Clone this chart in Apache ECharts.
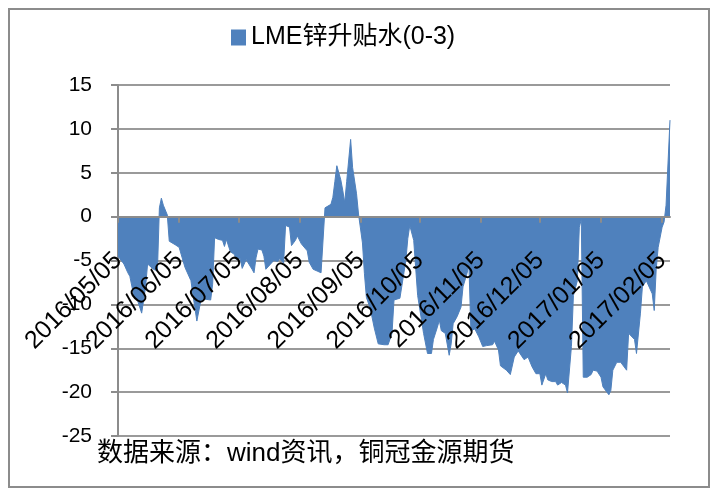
<!DOCTYPE html>
<html>
<head>
<meta charset="utf-8">
<script src="https://cdn.jsdelivr.net/npm/echarts@6/dist/echarts.min.js"></script>
<style>
  html, body { margin: 0; padding: 0; background: #fff; }
  #chart { width: 716px; height: 492px; }
</style>
</head>
<body>
<div id="chart"></div>
<script>
// LME锌升贴水(0-3)，按日期读图估值
const seriesName = 'LME锌升贴水(0-3)'
const dates = [
  '2016-05-05', '2016-05-08', '2016-05-10', '2016-05-11', '2016-05-13', '2016-05-15', '2016-05-17', '2016-05-18',
  '2016-05-19', '2016-05-20', '2016-05-23', '2016-05-25', '2016-05-26', '2016-05-27', '2016-05-28', '2016-05-30',
  '2016-05-31', '2016-06-03', '2016-06-05', '2016-06-08', '2016-06-11', '2016-06-12', '2016-06-14', '2016-06-16',
  '2016-06-18', '2016-06-21', '2016-06-22', '2016-06-23', '2016-06-25', '2016-06-27', '2016-06-28', '2016-06-29',
  '2016-07-01', '2016-07-03', '2016-07-04', '2016-07-06', '2016-07-07', '2016-07-08', '2016-07-09', '2016-07-12',
  '2016-07-13', '2016-07-14', '2016-07-15', '2016-07-17', '2016-07-18', '2016-07-19', '2016-07-20', '2016-07-21',
  '2016-07-23', '2016-07-25', '2016-07-26', '2016-07-28', '2016-07-29', '2016-07-31', '2016-08-01', '2016-08-03',
  '2016-08-04', '2016-08-06', '2016-08-07', '2016-08-09', '2016-08-10', '2016-08-12', '2016-08-14', '2016-08-16',
  '2016-08-17', '2016-08-18', '2016-08-21', '2016-08-22', '2016-08-23', '2016-08-24', '2016-08-25', '2016-08-26',
  '2016-08-27', '2016-08-28', '2016-08-29', '2016-08-31', '2016-09-01', '2016-09-03', '2016-09-04', '2016-09-06',
  '2016-09-07', '2016-09-08', '2016-09-10', '2016-09-12', '2016-09-14', '2016-09-17', '2016-09-19', '2016-09-21',
  '2016-09-22', '2016-09-25', '2016-09-28', '2016-09-29', '2016-09-30', '2016-10-02', '2016-10-03', '2016-10-04',
  '2016-10-07', '2016-10-09', '2016-10-11', '2016-10-12', '2016-10-14', '2016-10-15', '2016-10-16', '2016-10-18',
  '2016-10-20', '2016-10-21', '2016-10-22', '2016-10-24', '2016-10-26', '2016-10-27', '2016-10-29', '2016-10-30',
  '2016-10-31', '2016-11-02', '2016-11-04', '2016-11-06', '2016-11-08', '2016-11-09', '2016-11-11', '2016-11-12',
  '2016-11-14', '2016-11-15', '2016-11-16', '2016-11-18', '2016-11-20', '2016-11-22', '2016-11-24', '2016-11-25',
  '2016-11-27', '2016-11-29', '2016-12-01', '2016-12-03', '2016-12-05', '2016-12-06', '2016-12-08', '2016-12-09',
  '2016-12-11', '2016-12-13', '2016-12-14', '2016-12-16', '2016-12-18', '2016-12-19', '2016-12-20', '2016-12-21',
  '2016-12-22', '2016-12-24', '2016-12-25', '2016-12-26', '2016-12-27', '2016-12-29', '2016-12-31', '2017-01-01',
  '2017-01-03', '2017-01-05', '2017-01-06', '2017-01-08', '2017-01-09', '2017-01-10', '2017-01-11', '2017-01-13',
  '2017-01-15', '2017-01-16', '2017-01-18', '2017-01-19', '2017-01-20', '2017-01-22', '2017-01-23', '2017-01-25',
  '2017-01-26', '2017-01-28', '2017-01-29', '2017-01-31', '2017-02-01', '2017-02-02', '2017-02-03', '2017-02-05',
  '2017-02-06', '2017-02-07', '2017-02-08', '2017-02-09'
]
const values = [
  -4.5, -5.4, -6.4, -6.8, -9, -9.6, -11, -11,
  -8, -5.4, -6, -6.2, 1, 2.1, 1.3, 0.2,
  -2.8, -3.2, -3.5, -5.8, -7.3, -8.9, -11.9, -9.6,
  -9.4, -9.5, -7.7, -2.4, -2.6, -2.7, -3.4, -2.6,
  -4, -4.3, -4.9, -4.8, -5.9, -5.9, -4.9, -6,
  -6.4, -4.7, -3.7, -3.8, -4.5, -6, -6.2, -5.5,
  -5, -5.1, -4.8, -5.3, -1, -1.2, -3.3, -2.7,
  -2.2, -3.1, -3.2, -3.9, -5.2, -6, -6.2, -6.4,
  -6.6, 1, 1.4, 2.2, 4, 5.8, 5, 4.2,
  3, 1.6, 4, 8.8, 5.6, 2.6, 0.3, -3,
  -6.5, -9.2, -10.5, -12.7, -14.5, -14.6, -14.6, -13.3,
  -9.5, -9.3, -5, -2.5, -1, -2.7, -2.8, -9,
  -13.3, -15.6, -15.6, -14, -12.6, -11.8, -13, -13.3,
  -15.8, -14.5, -12.2, -11.4, -10.3, -8, -6.5, -5.5,
  -13, -12.8, -13.7, -14.8, -14.7, -14.5, -14.6, -14.2,
  -15.2, -17, -17, -17.5, -18, -16, -15.3, -15.5,
  -16.3, -16, -17.1, -17.9, -17.9, -19.2, -17.9, -18.6,
  -18.8, -18.8, -19.2, -18.9, -19.2, -20.1, -20.2, -14.8,
  -9, -7.3, -1.2, -0.3, -18.3, -18.3, -18, -17.5,
  -17.6, -18.3, -19.4, -20, -20.3, -19.8, -17.5, -16.6,
  -16.6, -16.4, -17.5, -13.3, -13.3, -14, -15.6, -11,
  -8, -7.3, -7.3, -8.8, -10.7, -6, -3.5, -1.2,
  -0.6, 1.3, 1.5, 11
]
const tickDates = [
  '2016-05-05', '2016-06-05', '2016-07-05', '2016-08-05', '2016-09-05',
  '2016-10-05', '2016-11-05', '2016-12-05', '2017-01-05', '2017-02-05'
]
const yMin = -25
const yMax = 15
const yStep = 5
const sourceText = '数据来源：wind资讯，铜冠金源期货'

const fontFamily = "'Liberation Sans', 'Noto Sans CJK SC', sans-serif"
const toTime = s => +echarts.time.parse(s)
const tickValues = tickDates.map(toTime)

const gridTop = 85
const gridBottom = 56
const gridHeight = 492 - gridTop - gridBottom
// 横轴画在 0 值处（onZero 在这里不生效，用 offset 往上挪）
const zeroOffset = -gridHeight * (0 - yMin) / (yMax - yMin)

const chart = echarts.init(document.getElementById('chart'), null, { renderer: 'canvas' })

chart.setOption({
  animation: false,
  backgroundColor: '#fff',
  color: ['#4f81bd'],
  textStyle: { fontFamily: fontFamily },
  legend: {
    data: [seriesName],
    left: 226,
    top: 20,
    icon: 'rect',
    itemWidth: 15,
    itemHeight: 16,
    textStyle: { fontSize: 25, color: '#000', fontFamily: fontFamily }
  },
  grid: { left: 118, right: 46, top: gridTop, bottom: gridBottom, outerBoundsMode: 'none' },
  xAxis: {
    type: 'value',
    z: 10,
    min: toTime(dates[0]),
    max: toTime(dates[dates.length - 1]),
    offset: zeroOffset,
    axisLine: { onZero: false, lineStyle: { color: '#8c8c8c', width: 2 } },
    axisTick: {
      show: true,
      length: 6,
      customValues: tickValues,
      lineStyle: { color: '#8c8c8c', width: 2 }
    },
    axisLabel: {
      customValues: tickValues,
      rotate: 45,
      margin: 40,
      fontSize: 25,
      color: '#000',
      fontFamily: fontFamily,
      formatter: v => echarts.time.format(v, '{yyyy}/{MM}/{dd}', false)
    },
    splitLine: { show: false }
  },
  yAxis: {
    type: 'value',
    min: yMin,
    max: yMax,
    interval: yStep,
    axisLine: { show: true, onZero: false, lineStyle: { color: '#8c8c8c', width: 2 } },
    axisTick: { show: true, length: 7, lineStyle: { color: '#8c8c8c', width: 2 } },
    axisLabel: { margin: 26, fontSize: 21, color: '#000', fontFamily: fontFamily },
    splitLine: { lineStyle: { color: '#9a9a9a', width: 2 } }
  },
  graphic: [
    {
      type: 'rect',
      shape: { x: 9, y: 9, width: 700, height: 478 },
      style: { fill: 'none', stroke: '#8c8c8c', lineWidth: 2 },
      silent: true
    },
    {
      type: 'text',
      left: 97,
      top: 441,
      style: { text: sourceText, fontSize: 26, fill: '#000', fontFamily: fontFamily }
    }
  ],
  series: [
    {
      name: seriesName,
      type: 'line',
      data: dates.map((d, i) => [toTime(d), values[i]]),
      symbol: 'none',
      lineStyle: { width: 1, color: '#4f81bd' },
      areaStyle: { color: '#4f81bd', opacity: 1 }
    }
  ]
})
</script>
</body>
</html>
